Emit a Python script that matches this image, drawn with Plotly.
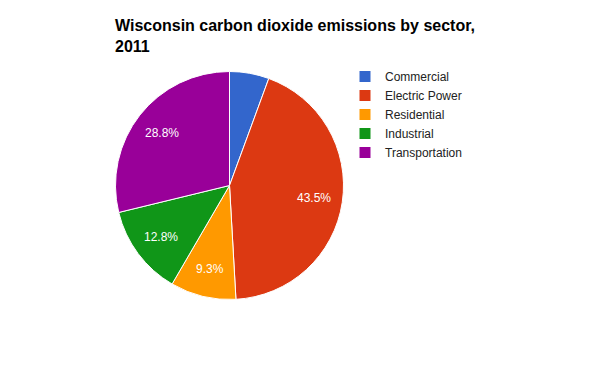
import math
import plotly.graph_objects as go

sectors = ["Commercial", "Electric Power", "Residential", "Industrial", "Transportation"]
shares = [5.6, 43.5, 9.3, 12.8, 28.8]
colors = ["#3366cc", "#dc3912", "#ff9900", "#109618", "#990099"]
labels_shown = ["", "43.5%", "9.3%", "12.8%", "28.8%"]

W, H = 600, 371
# page is offset by the 8px body margin
cx, cy, r = 221.5, 177.5, 114
label_radius = 0.75

fig = go.Figure(go.Pie(
    labels=sectors,
    values=shares,
    textinfo="none",
    marker=dict(colors=colors, line=dict(color="white", width=1)),
    sort=False,
    direction="clockwise",
    rotation=0,
    hoverinfo="label+percent",
    domain=dict(x=[(cx - r) / W, (cx + r) / W], y=[(H - cy - r) / H, (H - cy + r) / H]),
))

# slice labels placed from the cumulative shares
total = sum(shares)
cum = 0.0
annotations = []
for s, t in zip(shares, labels_shown):
    mid = (cum + s / 2) / total * 2 * math.pi
    cum += s
    if not t:
        continue
    px = cx + label_radius * r * math.sin(mid)
    py = cy - label_radius * r * math.cos(mid)
    annotations.append(dict(
        x=px / W, y=1 - py / H, xref="paper", yref="paper",
        text=t, showarrow=False, xanchor="center", yanchor="middle",
        font=dict(family="Liberation Sans, Arial, sans-serif", size=12, color="white"),
    ))

fig.update_layout(
    width=W, height=H,
    margin=dict(l=0, r=0, t=0, b=0),
    paper_bgcolor="white",
    plot_bgcolor="white",
    font=dict(family="Liberation Sans, Arial, sans-serif", color="#222222"),
    title=dict(
        text="<b>Wisconsin carbon dioxide emissions by sector,<br>2011</b>",
        font=dict(size=16, color="#000000", family="Liberation Sans, Arial, sans-serif"),
        x=107 / W, xanchor="left", xref="paper",
        y=1 - 23 / H, yanchor="top", yref="container",
    ),
    legend=dict(
        x=337 / W, y=1 - 54 / H, xanchor="left", yanchor="top",
        font=dict(size=12, color="#222222", family="Liberation Sans, Arial, sans-serif"),
        bgcolor="rgba(0,0,0,0)",
        tracegroupgap=0,
    ),
    annotations=annotations,
)

fig.write_html("out.html")
